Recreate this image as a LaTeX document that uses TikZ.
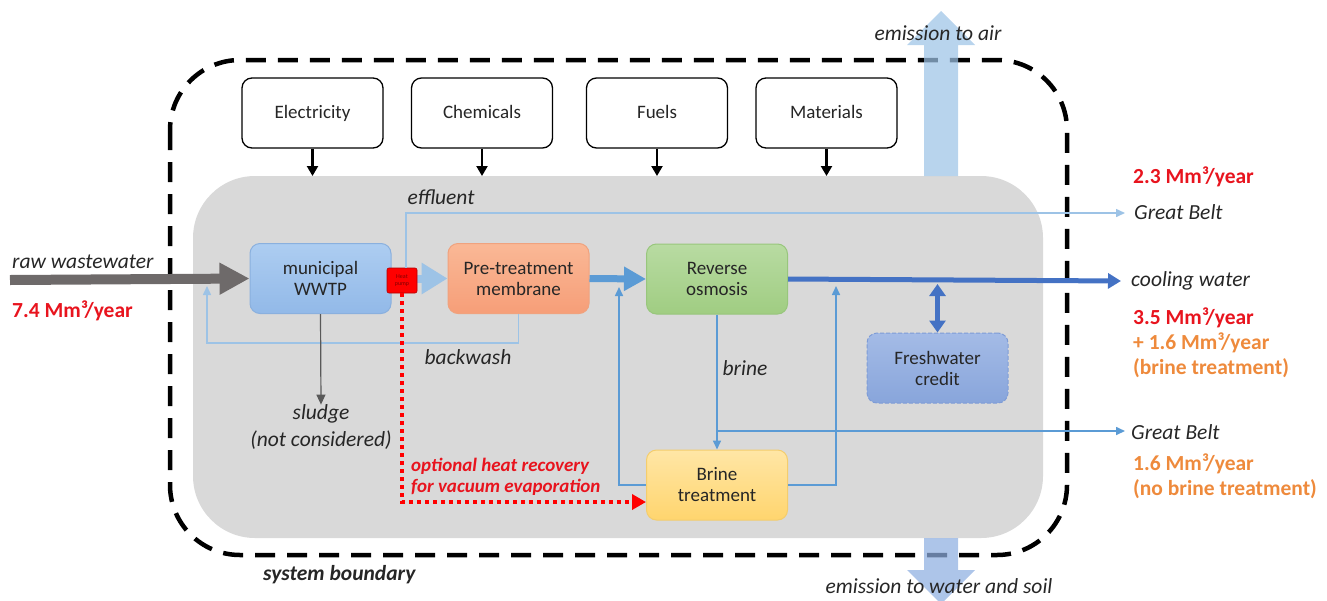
\documentclass[tikz,border=0pt]{standalone}
\usepackage{fontspec}
\setmainfont{Carlito}
\usetikzlibrary{arrows.meta,calc}
\newcommand\myfs{\fontsize{19}{21}\selectfont}
\newcommand\mylfs{\fontsize{21.5}{26.5}\selectfont}
\newcommand\myhfs{\fontsize{19}{21}\selectfont}
\definecolor{txt}{HTML}{262626}
\definecolor{grayarea}{HTML}{D9D9D9}
\definecolor{lblue}{HTML}{9DC3E6}
\definecolor{mblue}{HTML}{5B9BD5}
\definecolor{dblue}{HTML}{4472C4}
\definecolor{rawgray}{HTML}{6E6A6A}
\definecolor{myred}{HTML}{E8141E}
\definecolor{myorange}{HTML}{EE8A3C}
\definecolor{emitblue}{HTML}{9DC3E6}
\definecolor{emitblue2}{HTML}{8EAEE0}
\definecolor{wwtpT}{HTML}{ADCDF1}\definecolor{wwtpB}{HTML}{92B9E8}\definecolor{wwtpD}{HTML}{8AB0DE}
\definecolor{preT}{HTML}{FAB896}\definecolor{preB}{HTML}{F69E78}\definecolor{preD}{HTML}{F0A27E}
\definecolor{roT}{HTML}{B8DBA2}\definecolor{roB}{HTML}{A0CD82}\definecolor{roD}{HTML}{98C67C}
\definecolor{brT}{HTML}{FFE6A6}\definecolor{brB}{HTML}{FFD56E}\definecolor{brD}{HTML}{F4CD6C}
\definecolor{frT}{HTML}{A4BBE6}\definecolor{frB}{HTML}{88A5DB}\definecolor{frD}{HTML}{7E9CD6}
\tikzset{
  inbox/.style={draw=black, line width=1.3pt, rounded corners=10pt, fill=white,
    minimum width=141pt, minimum height=70pt, inner sep=0pt, font=\myfs, text=txt,
    text height=1.25em, text depth=0.1em},
  proc/.style={rounded corners=10pt, minimum width=141pt, minimum height=70pt,
    inner sep=0pt, align=center, font=\myfs, text=txt, line width=1pt},
  ital/.style={font=\mylfs\itshape, text=txt, inner sep=0pt},
  redlab/.style={font=\mylfs\bfseries, text=myred, inner sep=0pt, anchor=west},
  orlab/.style={font=\mylfs\bfseries, text=myorange, inner sep=0pt, anchor=west},
  feed/.style={line width=2.2pt, -{Triangle[length=10pt,width=11pt]}},
  thinl/.style={draw=lblue, line width=1.5pt, -{Triangle[length=9pt,width=8pt]}},
  thinm/.style={draw=mblue, line width=1.6pt, -{Triangle[length=9pt,width=8pt]}},
}
\begin{document}
\begin{tikzpicture}[x=1pt,y=-1pt]
\useasboundingbox (0,0) rectangle (1327,600);
% gray process area
\fill[grayarea, rounded corners=62pt] (193,176) rectangle (1043,538);
\coordinate (gtop) at (0,176);
% system boundary
\draw[line width=4.5pt, dash pattern=on 20pt off 12pt, rounded corners=70pt] (170,60) rectangle (1067,555);
% emissions
\fill[emitblue, opacity=0.72] (924,176) -- (924,45) -- (907,45) -- (941,11) -- (975,45) -- (958,45) -- (958,176) -- cycle;
\fill[emitblue2, opacity=0.72] (924,538) -- (924,570) -- (907,570) -- (941,604) -- (975,570) -- (958,570) -- (958,538) -- cycle;
\node[ital] (air) at (938,33) {emission to air};
\node[ital] (soil) at (939,586) {emission to water and soil};
\node[font=\mylfs\bfseries\itshape, text=txt, inner sep=0pt, anchor=west] (sysb) at (263,575) {system boundary};

% inputs
\node[inbox] (elec) at (312.5,113) {Electricity};
\node[inbox] (chem) at (482,113) {Chemicals};
\node[inbox] (fuel) at (657,113) {Fuels};
\node[inbox] (mat) at (826.5,113) {Materials};
\foreach \n in {elec,chem,fuel,mat}
  \draw[feed] (\n.south) -- (\n.south |- gtop);

% processes
\node[proc, draw=wwtpD, top color=wwtpT, bottom color=wwtpB] (wwtp) at (320.5,278.5) {municipal\\WWTP};
\node[proc, draw=preD, top color=preT, bottom color=preB] (pre) at (518.5,278.5) {Pre-treatment\\membrane};
\node[proc, draw=roD, top color=roT, bottom color=roB] (ro) at (717,279) {Reverse\\osmosis};
\node[proc, draw=brD, top color=brT, bottom color=brB] (brine) at (717,485) {Brine\\treatment};
\node[proc, draw=frD, dash pattern=on 4pt off 2pt, top color=frT, bottom color=frB] (fresh) at (937.5,368) {Freshwater\\credit};

% free ends
\coordinate (rawstart) at (10,280);
\coordinate (gb1) at (1125,213);
\coordinate (cool) at (1121,281);
\coordinate (gb2) at (1125,431);
\coordinate (bwend) at (207,286);
\coordinate (brl) at (619,287);
\coordinate (brr) at (836,286);

% main flows
\draw[draw=rawgray, line width=10pt, -{Triangle[length=30pt,width=30pt]}] (rawstart) -- (wwtp.west);
\draw[draw=lblue, line width=8pt, -{Triangle[length=26pt,width=30pt]}] (wwtp.east) -- (pre.west);
\node[draw=red!70!black, line width=0.6pt, fill=red, rounded corners=2pt, minimum width=30pt, minimum height=25pt, inner sep=0pt, align=center, font=\fontsize{6}{7}\selectfont, text=red!50!black] (hp) at (402,280.5) {Heat\\pump};
\draw[draw=mblue, line width=7pt, -{Triangle[length=22pt,width=23pt]}] (pre.east) -- (ro.west);
\draw[draw=dblue, line width=5pt, -{Triangle[length=13pt,width=15pt]}] (ro.east) -- (cool);
\draw[draw=dblue, line width=5pt, {Triangle[length=12pt,width=16pt]}-{Triangle[length=12pt,width=16pt]}] (fresh.north |- cool) ++(0,3) -- (fresh.north);

% effluent and backwash
\draw[thinl] ([xshift=4pt]hp.north) |- (gb1);
\node[ital] (effl) at (441,197) {effluent};
\draw[thinl] (pre.south) -- ++(0,29) -| (bwend);
\node[ital] (bw) at (468,357) {backwash};

% sludge
\node[ital, align=center] (sludge) at (321,427) {sludge\\(not considered)};
\draw[draw=black!65, line width=1.2pt, -{Triangle[length=10pt,width=9pt]}] (wwtp.south) -- (sludge.north);

% brine flows
\draw[thinm] (ro.south) -- (brine.north);
\node[ital] (brinel) at (745,368) {brine};
\draw[thinm] (ro.south |- gb2) -- (gb2);
\draw[thinm] (brine.west) -| (brl);
\draw[thinm] (brine.east) -| (brr);

% heat recovery
\draw[draw=red, line width=4pt, dash pattern=on 4pt off 4pt, -{Triangle[length=14pt,width=15pt]}] (hp.south) |- ([yshift=-17pt]brine.west);
\node[font=\myhfs\bfseries\itshape, text=myred, inner sep=0pt, anchor=west, align=left] (hr) at (411,476.5) {optional heat recovery\\for vacuum evaporation};

% left labels
\node[ital, anchor=west] (rawl) at (12,262) {raw wastewater};
\node[redlab] (rawv) at (12,311) {7.4 Mm³/year};

% right labels
\node[redlab] (v1) at (1133,177) {2.3 Mm³/year};
\node[ital, anchor=west] (gbl1) at (1134,212) {Great Belt};
\node[ital, anchor=west] (cooll) at (1131,281) {cooling water};
\node[redlab] (v2) at (1133,318) {3.5 Mm³/year};
\node[orlab] (v3) at (1133,343) {+ 1.6 Mm³/year};
\node[orlab] (v4) at (1133,368) {(brine treatment)};
\node[ital, anchor=west] (gbl2) at (1131,432) {Great Belt};
\node[orlab] (v5) at (1133,464) {1.6 Mm³/year};
\node[orlab] (v6) at (1133,489) {(no brine treatment)};
\end{tikzpicture}
\end{document}
